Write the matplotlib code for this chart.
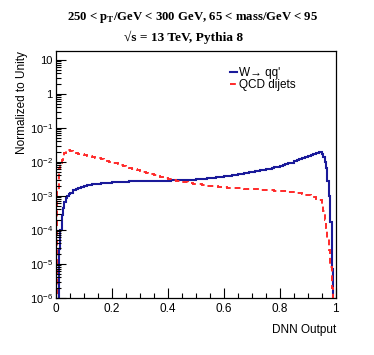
import numpy as np
import matplotlib
matplotlib.use("Agg")
import matplotlib.pyplot as plt
from matplotlib.ticker import FuncFormatter, LogLocator, MultipleLocator

plt.rcParams['font.family'] = ['Liberation Sans', 'DejaVu Sans']
plt.rcParams['mathtext.fontset'] = 'custom'
plt.rcParams['mathtext.rm'] = 'Liberation Sans'
plt.rcParams['mathtext.it'] = 'Liberation Sans:italic'

# bin edges: 0.005 wide near the ends, 0.01 wide in the middle
bin_edges = np.concatenate([np.linspace(0.0, 0.05, 11)[:-1],
                            np.linspace(0.05, 0.95, 91)[:-1],
                            np.linspace(0.95, 1.0, 11)])

# W -> qq' (signal), normalized
w_low = [1e-7, 1e-7, 2.7e-5, 1.0e-4, 2.7e-4, 4.5e-4, 6.5e-4, 8.5e-4, 1.0e-3, 1.1e-3]
w_mid = [1.25e-3, 1.45e-3, 1.6e-3, 1.72e-3, 1.85e-3, 1.95e-3, 2.05e-3, 2.12e-3, 2.18e-3, 2.23e-3,
         2.28e-3, 2.33e-3, 2.38e-3, 2.42e-3, 2.46e-3, 2.49e-3, 2.52e-3, 2.55e-3, 2.58e-3, 2.6e-3,
         2.62e-3, 2.64e-3, 2.66e-3, 2.67e-3, 2.69e-3, 2.7e-3, 2.71e-3, 2.72e-3, 2.74e-3, 2.75e-3,
         2.75e-3, 2.76e-3, 2.77e-3, 2.78e-3, 2.8e-3, 2.81e-3, 2.83e-3, 2.85e-3, 2.87e-3, 2.89e-3,
         2.91e-3, 2.93e-3, 2.95e-3, 2.98e-3, 3.02e-3, 3.06e-3, 3.11e-3, 3.16e-3, 3.21e-3, 3.27e-3,
         3.34e-3, 3.41e-3, 3.49e-3, 3.57e-3, 3.65e-3, 3.74e-3, 3.84e-3, 3.95e-3, 4.07e-3, 4.2e-3,
         4.33e-3, 4.47e-3, 4.62e-3, 4.78e-3, 4.95e-3, 5.12e-3, 5.3e-3, 5.5e-3, 5.7e-3, 5.9e-3,
         6.1e-3, 6.35e-3, 6.6e-3, 6.9e-3, 7.25e-3, 7.6e-3, 8.0e-3, 8.45e-3, 8.95e-3, 9.5e-3,
         1.03e-2, 1.1e-2, 1.18e-2, 1.27e-2, 1.37e-2, 1.47e-2, 1.58e-2, 1.7e-2, 1.82e-2, 1.9e-2]
w_high = [1.75e-2, 1.4e-2, 1.0e-2, 6.5e-3, 2.8e-3, 1.0e-3, 1.7e-4, 7e-6, 1e-7, 1e-7]

# QCD dijets (background), normalized
qcd_low = [1e-7, 1.3e-3, 6e-3, 9e-3, 1.1e-2, 1.4e-2, 1.8e-2, 2.2e-2, 2.3e-2, 2.2e-2]
qcd_mid = [2.1e-2, 1.98e-2, 1.86e-2, 1.75e-2, 1.66e-2, 1.58e-2, 1.51e-2, 1.44e-2, 1.38e-2, 1.32e-2,
           1.26e-2, 1.2e-2, 1.13e-2, 1.07e-2, 1.01e-2, 9.5e-3, 9.0e-3, 8.5e-3, 8.0e-3, 7.55e-3,
           7.1e-3, 6.7e-3, 6.35e-3, 6.0e-3, 5.65e-3, 5.35e-3, 5.05e-3, 4.75e-3, 4.5e-3, 4.25e-3,
           4.05e-3, 3.85e-3, 3.65e-3, 3.5e-3, 3.35e-3, 3.2e-3, 3.05e-3, 2.92e-3, 2.8e-3, 2.7e-3,
           2.6e-3, 2.52e-3, 2.44e-3, 2.36e-3, 2.29e-3, 2.23e-3, 2.17e-3, 2.11e-3, 2.06e-3, 2.01e-3,
           1.97e-3, 1.93e-3, 1.89e-3, 1.85e-3, 1.81e-3, 1.78e-3, 1.75e-3, 1.73e-3, 1.71e-3, 1.69e-3,
           1.67e-3, 1.65e-3, 1.63e-3, 1.61e-3, 1.59e-3, 1.58e-3, 1.56e-3, 1.54e-3, 1.52e-3, 1.5e-3,
           1.49e-3, 1.47e-3, 1.45e-3, 1.43e-3, 1.41e-3, 1.39e-3, 1.37e-3, 1.35e-3, 1.33e-3, 1.3e-3,
           1.26e-3, 1.22e-3, 1.18e-3, 1.14e-3, 1.09e-3, 1.04e-3, 9.7e-4, 9.0e-4, 8.3e-4, 7.5e-4]
qcd_high = [5.5e-4, 3.5e-4, 2.0e-4, 1.1e-4, 5.5e-5, 2.5e-5, 8e-6, 2e-6, 1e-7, 1e-7]

w_vals = np.array(w_low + w_mid + w_high)
qcd_vals = np.array(qcd_low + qcd_mid + qcd_high)

fig = plt.figure(figsize=(3.74, 3.55), dpi=100)
ax = fig.add_axes([0.150, 0.161, 0.748, 0.695])

ax.stairs(w_vals, bin_edges, baseline=None, color='#1a1a9a', lw=1.5, label="W\u2192 qq'")
ax.stairs(qcd_vals, bin_edges, baseline=None, color='#ff2a2a', lw=1.4, ls=(0, (3, 2)),
          label='QCD dijets')

ax.set_yscale('log')
ax.set_xlim(0, 1)
ax.set_ylim(1e-6, 18)

def log_fmt(v, pos):
    e = int(round(np.log10(v)))
    if e == 0:
        return '1'
    if e == 1:
        return '10'
    return r'$10^{%d}$' % e

ax.yaxis.set_major_locator(LogLocator(base=10, numticks=20))
ax.yaxis.set_minor_locator(LogLocator(base=10, subs=np.arange(2, 10), numticks=20))
ax.yaxis.set_major_formatter(FuncFormatter(log_fmt))
ax.xaxis.set_major_locator(MultipleLocator(0.2))
ax.xaxis.set_minor_locator(MultipleLocator(0.05))
ax.xaxis.set_major_formatter(FuncFormatter(lambda v, p: '%g' % round(v, 2)))

ax.tick_params(which='both', direction='in', top=False, right=False, labelsize=8.5, width=0.8)
ax.tick_params(axis='y', labelsize=8, pad=2.5)
ax.tick_params(which='major', length=7)
ax.tick_params(which='minor', length=3.5)
ax.tick_params(axis='x', pad=4)
for s in ax.spines.values():
    s.set_linewidth(0.9)

ax.set_ylabel('Normalized to Unity', loc='top', fontsize=8.5)
ax.yaxis.set_label_coords(-0.102, 1.0)
ax.set_xlabel('DNN Output', loc='right', fontsize=8.5, labelpad=6)

leg = ax.legend(loc='upper left', bbox_to_anchor=(0.60, 0.96), frameon=False, fontsize=8.5,
                handlelength=0.6, handletextpad=0.2, labelspacing=0.05, borderpad=0)

serif = ['Liberation Serif', 'DejaVu Serif']
fig.text(0.515, 0.950, r'250 < p$_\mathregular{T}$/GeV < 300 GeV, 65 < mass/GeV < 95',
         ha='center', va='center', fontsize=9.2, fontweight='bold', family=serif)
fig.text(0.492, 0.896, '\u221as = 13 TeV, Pythia 8', ha='center', va='center',
         fontsize=9.6, fontweight='bold', family=serif)

fig.savefig('out.png', dpi=100, facecolor='white')
